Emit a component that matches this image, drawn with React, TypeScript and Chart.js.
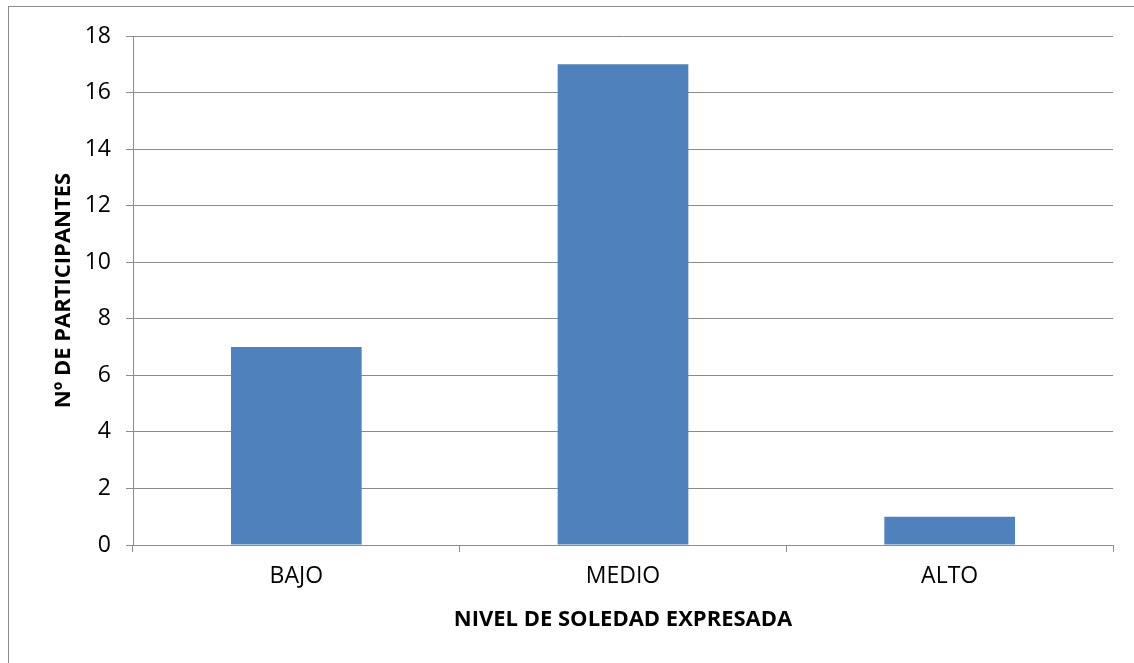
import React, { useEffect, useRef } from "react";
import { Chart, registerables } from "chart.js";

Chart.register(...registerables);

const categories = ["BAJO", "MEDIO", "ALTO"];
const participants = [7, 17, 1];
const yTicks = [0, 2, 4, 6, 8, 10, 12, 14, 16, 18];
const xTitle = "NIVEL DE SOLEDAD EXPRESADA";
const yTitle = "Nº DE PARTICIPANTES";

const GRID = "#8c8c8c";
const FONT = "'Open Sans', 'DejaVu Sans', sans-serif";

export default function App() {
  const ref = useRef<HTMLCanvasElement | null>(null);

  useEffect(() => {
    if (!ref.current) return;
    const chart = new Chart(ref.current, {
      type: "bar",
      data: {
        labels: categories,
        datasets: [
          {
            data: participants,
            backgroundColor: "#4F81BD",
            borderWidth: 0,
            barPercentage: 0.4,
            categoryPercentage: 1,
          },
        ],
      },
      options: {
        responsive: false,
        animation: false,
        layout: { padding: { top: 29, right: 21, left: 0, bottom: 0 } },
        plugins: { legend: { display: false }, tooltip: { enabled: false } },
        scales: {
          x: {
            type: "category",
            offset: true,
            grid: {
              display: true,
              drawOnChartArea: false,
              drawTicks: true,
              tickLength: 7,
              offset: true,
              color: GRID,
            },
            border: { color: GRID, width: 1 },
            ticks: {
              color: "#000",
              padding: 11,
              font: { family: FONT, size: 23 },
              maxRotation: 0,
            },
            title: {
              display: true,
              text: xTitle,
              color: "#000",
              font: { family: FONT, size: 22, weight: "bold" },
              padding: { top: 0, bottom: 30 },
            },
            afterFit: (scale: any) => {
              scale.height = 118;
            },
          },
          y: {
            min: 0,
            max: 18,
            afterBuildTicks: (scale: any) => {
              scale.ticks = yTicks.map((v) => ({ value: v }));
            },
            grid: {
              color: GRID,
              tickLength: 7,
              drawTicks: true,
            },
            border: { color: GRID, width: 1 },
            ticks: {
              color: "#000",
              padding: 15,
              font: { family: FONT, size: 23 },
            },
            title: {
              display: true,
              text: yTitle,
              color: "#000",
              font: { family: FONT, size: 22, weight: "bold" },
              padding: { top: 42, bottom: 0 },
            },
            afterFit: (scale: any) => {
              scale.width = 124;
            },
          },
        },
      },
    });
    return () => chart.destroy();
  }, []);

  return (
    <div
      style={{
        position: "absolute",
        left: 8,
        top: 6,
        width: 1125,
        height: 656,
        borderTop: "1px solid #8c8c8c",
        borderLeft: "1px solid #8c8c8c",
        background: "#fff",
        overflow: "hidden",
      }}
    >
      <canvas ref={ref} width={1125} height={656} style={{ display: "block" }} />
    </div>
  );
}
